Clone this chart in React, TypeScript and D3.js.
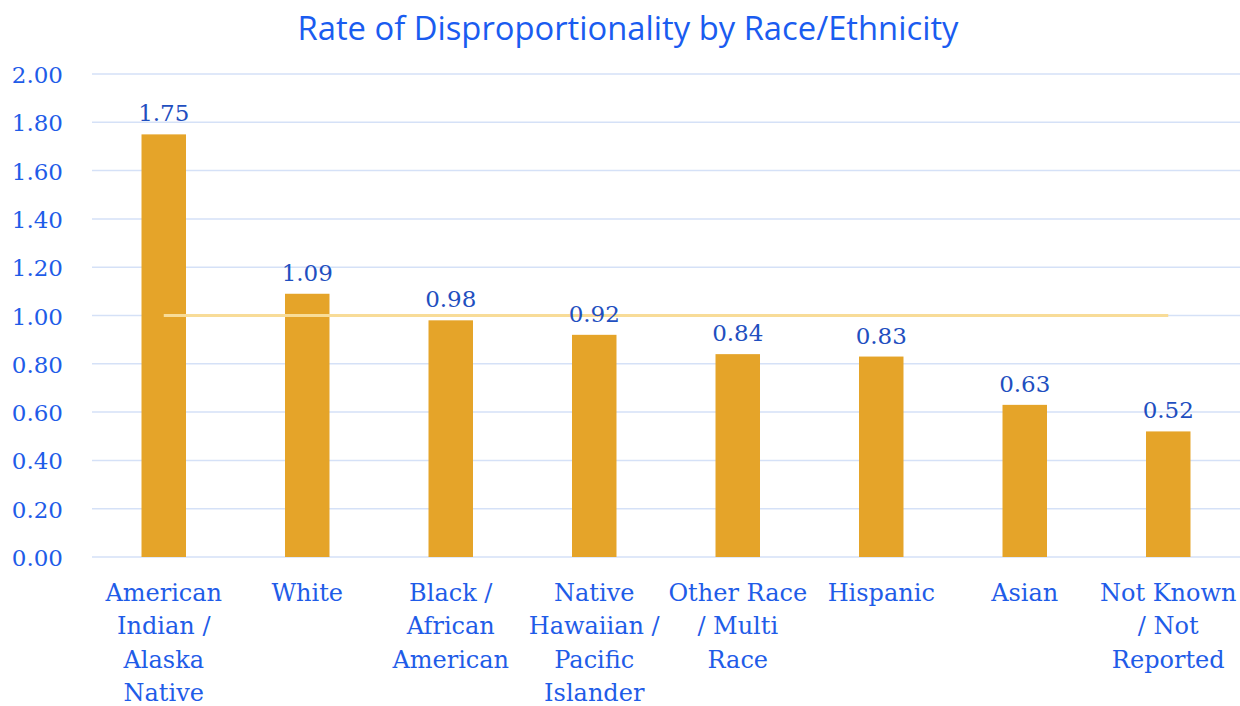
import React from "react";
import * as d3 from "d3";

const categories: string[][] = [
  ["American", "Indian /", "Alaska", "Native"],
  ["White"],
  ["Black /", "African", "American"],
  ["Native", "Hawaiian /", "Pacific", "Islander"],
  ["Other Race", "/ Multi", "Race"],
  ["Hispanic"],
  ["Asian"],
  ["Not Known", "/ Not", "Reported"],
];
const values: number[] = [1.75, 1.09, 0.98, 0.92, 0.84, 0.83, 0.63, 0.52];
const yTicks: number[] = [0, 0.2, 0.4, 0.6, 0.8, 1.0, 1.2, 1.4, 1.6, 1.8, 2.0];
const referenceValue = 1.0;
const title = "Rate of Disproportionality by Race/Ethnicity";

const W = 1240;
const H = 706;
const serif = "'DejaVu Serif', 'Liberation Serif', serif";

export default function App() {
  const x = d3
    .scaleBand<number>()
    .domain(values.map((_, i) => i))
    .range([92, 1240])
    .paddingInner(0.69)
    .paddingOuter(0.345);
  const y = d3.scaleLinear().domain([0, 2]).range([557, 74]);
  const center = (i: number) => (x(i) as number) + x.bandwidth() / 2;

  return (
    <svg
      width={W}
      height={H}
      style={{ position: "absolute", left: 0, top: 0, background: "#fff" }}
    >
      <text
        x={628}
        y={40}
        textAnchor="middle"
        fill="#1a5cf0"
        textLength={661}
        lengthAdjust="spacingAndGlyphs"
        style={{ fontFamily: "'Open Sans', sans-serif", fontSize: 33 }}
      >
        {title}
      </text>
      {yTicks.map((t) => (
        <g key={t}>
          <line x1={92} x2={1240} y1={y(t)} y2={y(t)} stroke="#d5e1f7" strokeWidth={1.5} />
          <text
            x={63}
            y={y(t) + 9}
            textAnchor="end"
            fill="#1f5ce8"
            style={{ fontFamily: serif, fontSize: 23 }}
          >
            {t.toFixed(2)}
          </text>
        </g>
      ))}
      {values.map((v, i) => (
        <rect
          key={i}
          x={x(i)}
          y={y(v)}
          width={x.bandwidth()}
          height={y(0) - y(v)}
          fill="#e5a429"
        />
      ))}
      <line
        x1={center(0)}
        x2={center(values.length - 1)}
        y1={y(referenceValue)}
        y2={y(referenceValue)}
        stroke="#f8dc98"
        strokeWidth={3}
      />
      {values.map((v, i) => (
        <text
          key={i}
          x={center(i)}
          y={y(v) - 13}
          textAnchor="middle"
          fill="#1f4fc0"
          style={{ fontFamily: serif, fontSize: 23 }}
        >
          {v.toFixed(2)}
        </text>
      ))}
      {categories.map((lines, i) => (
        <text
          key={i}
          textAnchor="middle"
          fill="#1f5ce8"
          style={{ fontFamily: serif, fontSize: 24 }}
        >
          {lines.map((l, j) => (
            <tspan key={j} x={center(i)} y={601 + j * 33.3}>
              {l}
            </tspan>
          ))}
        </text>
      ))}
    </svg>
  );
}
